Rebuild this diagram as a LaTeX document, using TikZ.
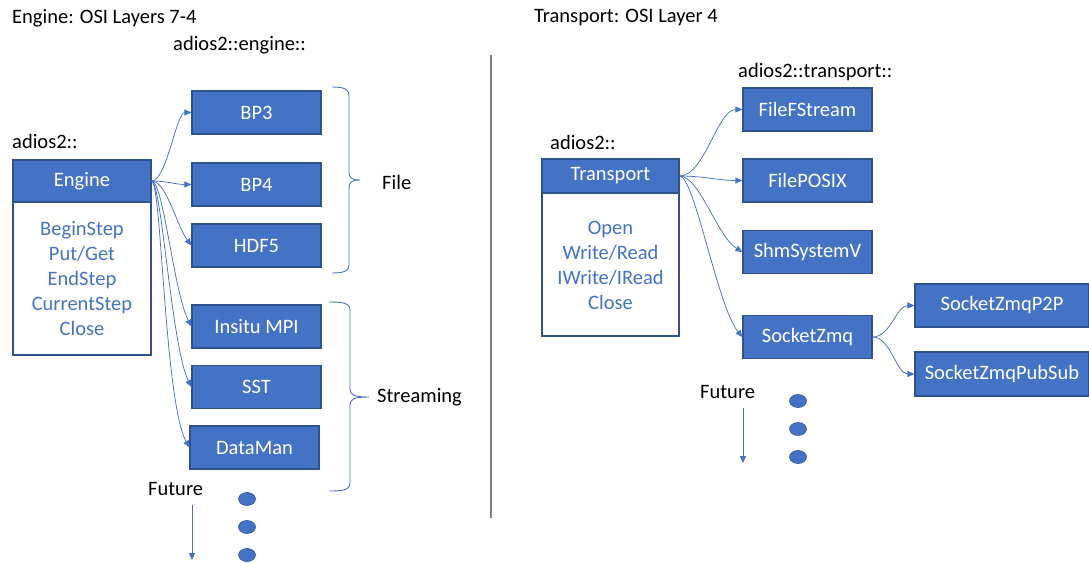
\documentclass[tikz,border=0pt]{standalone}
\usepackage{fontspec}
\setmainfont{Carlito}
\usetikzlibrary{arrows.meta,shapes.geometric}
\definecolor{oblue}{HTML}{4472C4}
\definecolor{oedge}{HTML}{2F528F}
\definecolor{divgray}{HTML}{7F7F7F}
\begin{document}
\begin{tikzpicture}[x=1pt,y=-1pt,
  every node/.style={font=\fontsize{20.5}{25}\selectfont},
  blk/.style={draw=oedge,line width=1.1pt,fill=oblue,text=white,inner sep=0pt,
    minimum width=129pt,minimum height=43pt,anchor=center},
  hdr/.style={blk,minimum width=138pt},
  body/.style={draw=oedge,line width=1.1pt,fill=white,text=oblue,inner sep=0pt,
    align=center,font=\fontsize{20.5}{25}\selectfont},
  lbl/.style={inner sep=0pt,anchor=west,text=black},
  conn/.style={draw=oblue,line width=0.75pt,-{Triangle[length=7pt,width=6pt]}},
  brace/.style={draw=oblue,line width=0.9pt},
  dot/.style={ellipse,draw=oedge,line width=0.6pt,fill=oblue,minimum width=17pt,
    minimum height=13pt,inner sep=0pt},
]
\useasboundingbox (0,0) rectangle (1089,562);

% titles
\node[lbl] (t1) at (12,18) {Engine: OSI Layers 7-4};
\node[lbl] (t2) at (534,18) {Transport: OSI Layer 4};

% divider
\coordinate (d1) at (491,55);
\coordinate (d2) at (491,518);
\draw[divgray,line width=1.5pt] (d1) -- (d2);

% ---------- left: engine ----------
\node[lbl] (ns1) at (12,141) {adios2::};
\node[lbl] (ns2) at (173,45) {adios2::engine::};

\node[body,minimum width=138pt,minimum height=153pt] (ebody) at (82,278.5) {};
\node[text=oblue,align=center,inner sep=0pt] (elist) at (82,279)
  {BeginStep\\Put/Get\\EndStep\\CurrentStep\\Close};
\node[hdr,minimum height=42pt] (eng) at (82,181) {Engine};

\node[blk] (bp3) at (256.5,112.5) {BP3};
\node[blk] (bp4) at (256.5,184.5) {BP4};
\node[blk] (hdf) at (256.5,245.5) {HDF5};
\node[blk] (mpi) at (256.5,326.5) {Insitu MPI};
\node[blk] (sst) at (256.5,387) {SST};
\node[blk] (dm)  at (254.5,447.5) {DataMan};

\draw[conn] (eng.east) .. controls +(15,0) and +(-15,0) .. (bp3.west);
\draw[conn] (eng.east) .. controls +(15,0) and +(-15,0) .. (bp4.west);
\draw[conn] (eng.east) .. controls +(15,0) and +(-15,-20) .. (hdf.west);
\draw[conn] (eng.east) .. controls +(12,0) and +(-18,-35) .. (mpi.west);
\draw[conn] (eng.east) .. controls +(10,0) and +(-20,-40) .. (sst.west);
\draw[conn] (eng.east) .. controls +(10,0) and +(-25,-45) .. (dm.west);

% braces
\draw[brace] (332,87) .. controls (344,87) and (349,89) .. (349,96) -- (349,172)
  .. controls (349,178) and (352,180) .. (360,180)
  .. controls (352,180) and (349,182) .. (349,188) -- (349,265)
  .. controls (349,271) and (344,273) .. (332,273);
\node[lbl] (file) at (382,182) {File};

\draw[brace] (329,302) .. controls (343,302) and (350,303) .. (350,310) -- (350,389)
  .. controls (350,395) and (354,397) .. (369,397)
  .. controls (354,397) and (350,399) .. (350,405) -- (350,483)
  .. controls (350,490) and (343,491) .. (329,491);
\node[lbl] (strm) at (377,397) {Streaming};

% future
\node[lbl] (fut1) at (148,489) {Future};
\coordinate (fa1) at (192,505);
\coordinate (fb1) at (192,560);
\draw[conn] (fa1) -- (fb1);
\node[dot] (l1) at (247,499) {};
\node[dot] (l2) at (247,527) {};
\node[dot] (l3) at (247,555) {};

% ---------- right: transport ----------
\node[lbl] (ns3) at (550,142) {adios2::};
\node[lbl] (ns4) at (738,72) {adios2::transport::};

\node[body,minimum width=137pt,minimum height=143pt] (tbody) at (610.5,264.5) {};
\node[text=oblue,align=center,inner sep=0pt] (tlist) at (610.5,265)
  {Open\\Write/Read\\IWrite/IRead\\Close};
\node[hdr,minimum width=137pt,minimum height=34pt] (trn) at (610.5,176) {Transport};

\node[blk] (ffs) at (807.5,109.5) {FileFStream};
\node[blk] (fpx) at (807.5,180.5) {FilePOSIX};
\node[blk] (shm) at (807.5,252) {ShmSystemV};
\node[blk] (szq) at (807.5,337) {SocketZmq};
\node[blk,minimum width=174pt] (p2p) at (1002,305.5) {SocketZmqP2P};
\node[blk,minimum width=174pt,minimum height=44pt] (pub) at (1002,374) {SocketZmqPubSub};

\draw[conn] (trn.east) .. controls +(25,0) and +(-25,0) .. (ffs.west);
\draw[conn] (trn.east) .. controls +(25,0) and +(-25,0) .. (fpx.west);
\draw[conn] (trn.east) .. controls +(20,0) and +(-25,-15) .. (shm.west);
\draw[conn] (trn.east) .. controls +(15,0) and +(-25,-30) .. (szq.west);
\draw[conn] (szq.east) .. controls +(18,0) and +(-18,0) .. (p2p.west);
\draw[conn] (szq.east) .. controls +(18,0) and +(-18,0) .. (pub.west);

\node[lbl] (fut2) at (700,392) {Future};
\coordinate (fa2) at (743,408);
\coordinate (fb2) at (743,463);
\draw[conn] (fa2) -- (fb2);
\node[dot] (r1) at (798,401) {};
\node[dot] (r2) at (798,429) {};
\node[dot] (r3) at (798,457) {};
\end{tikzpicture}
\end{document}
